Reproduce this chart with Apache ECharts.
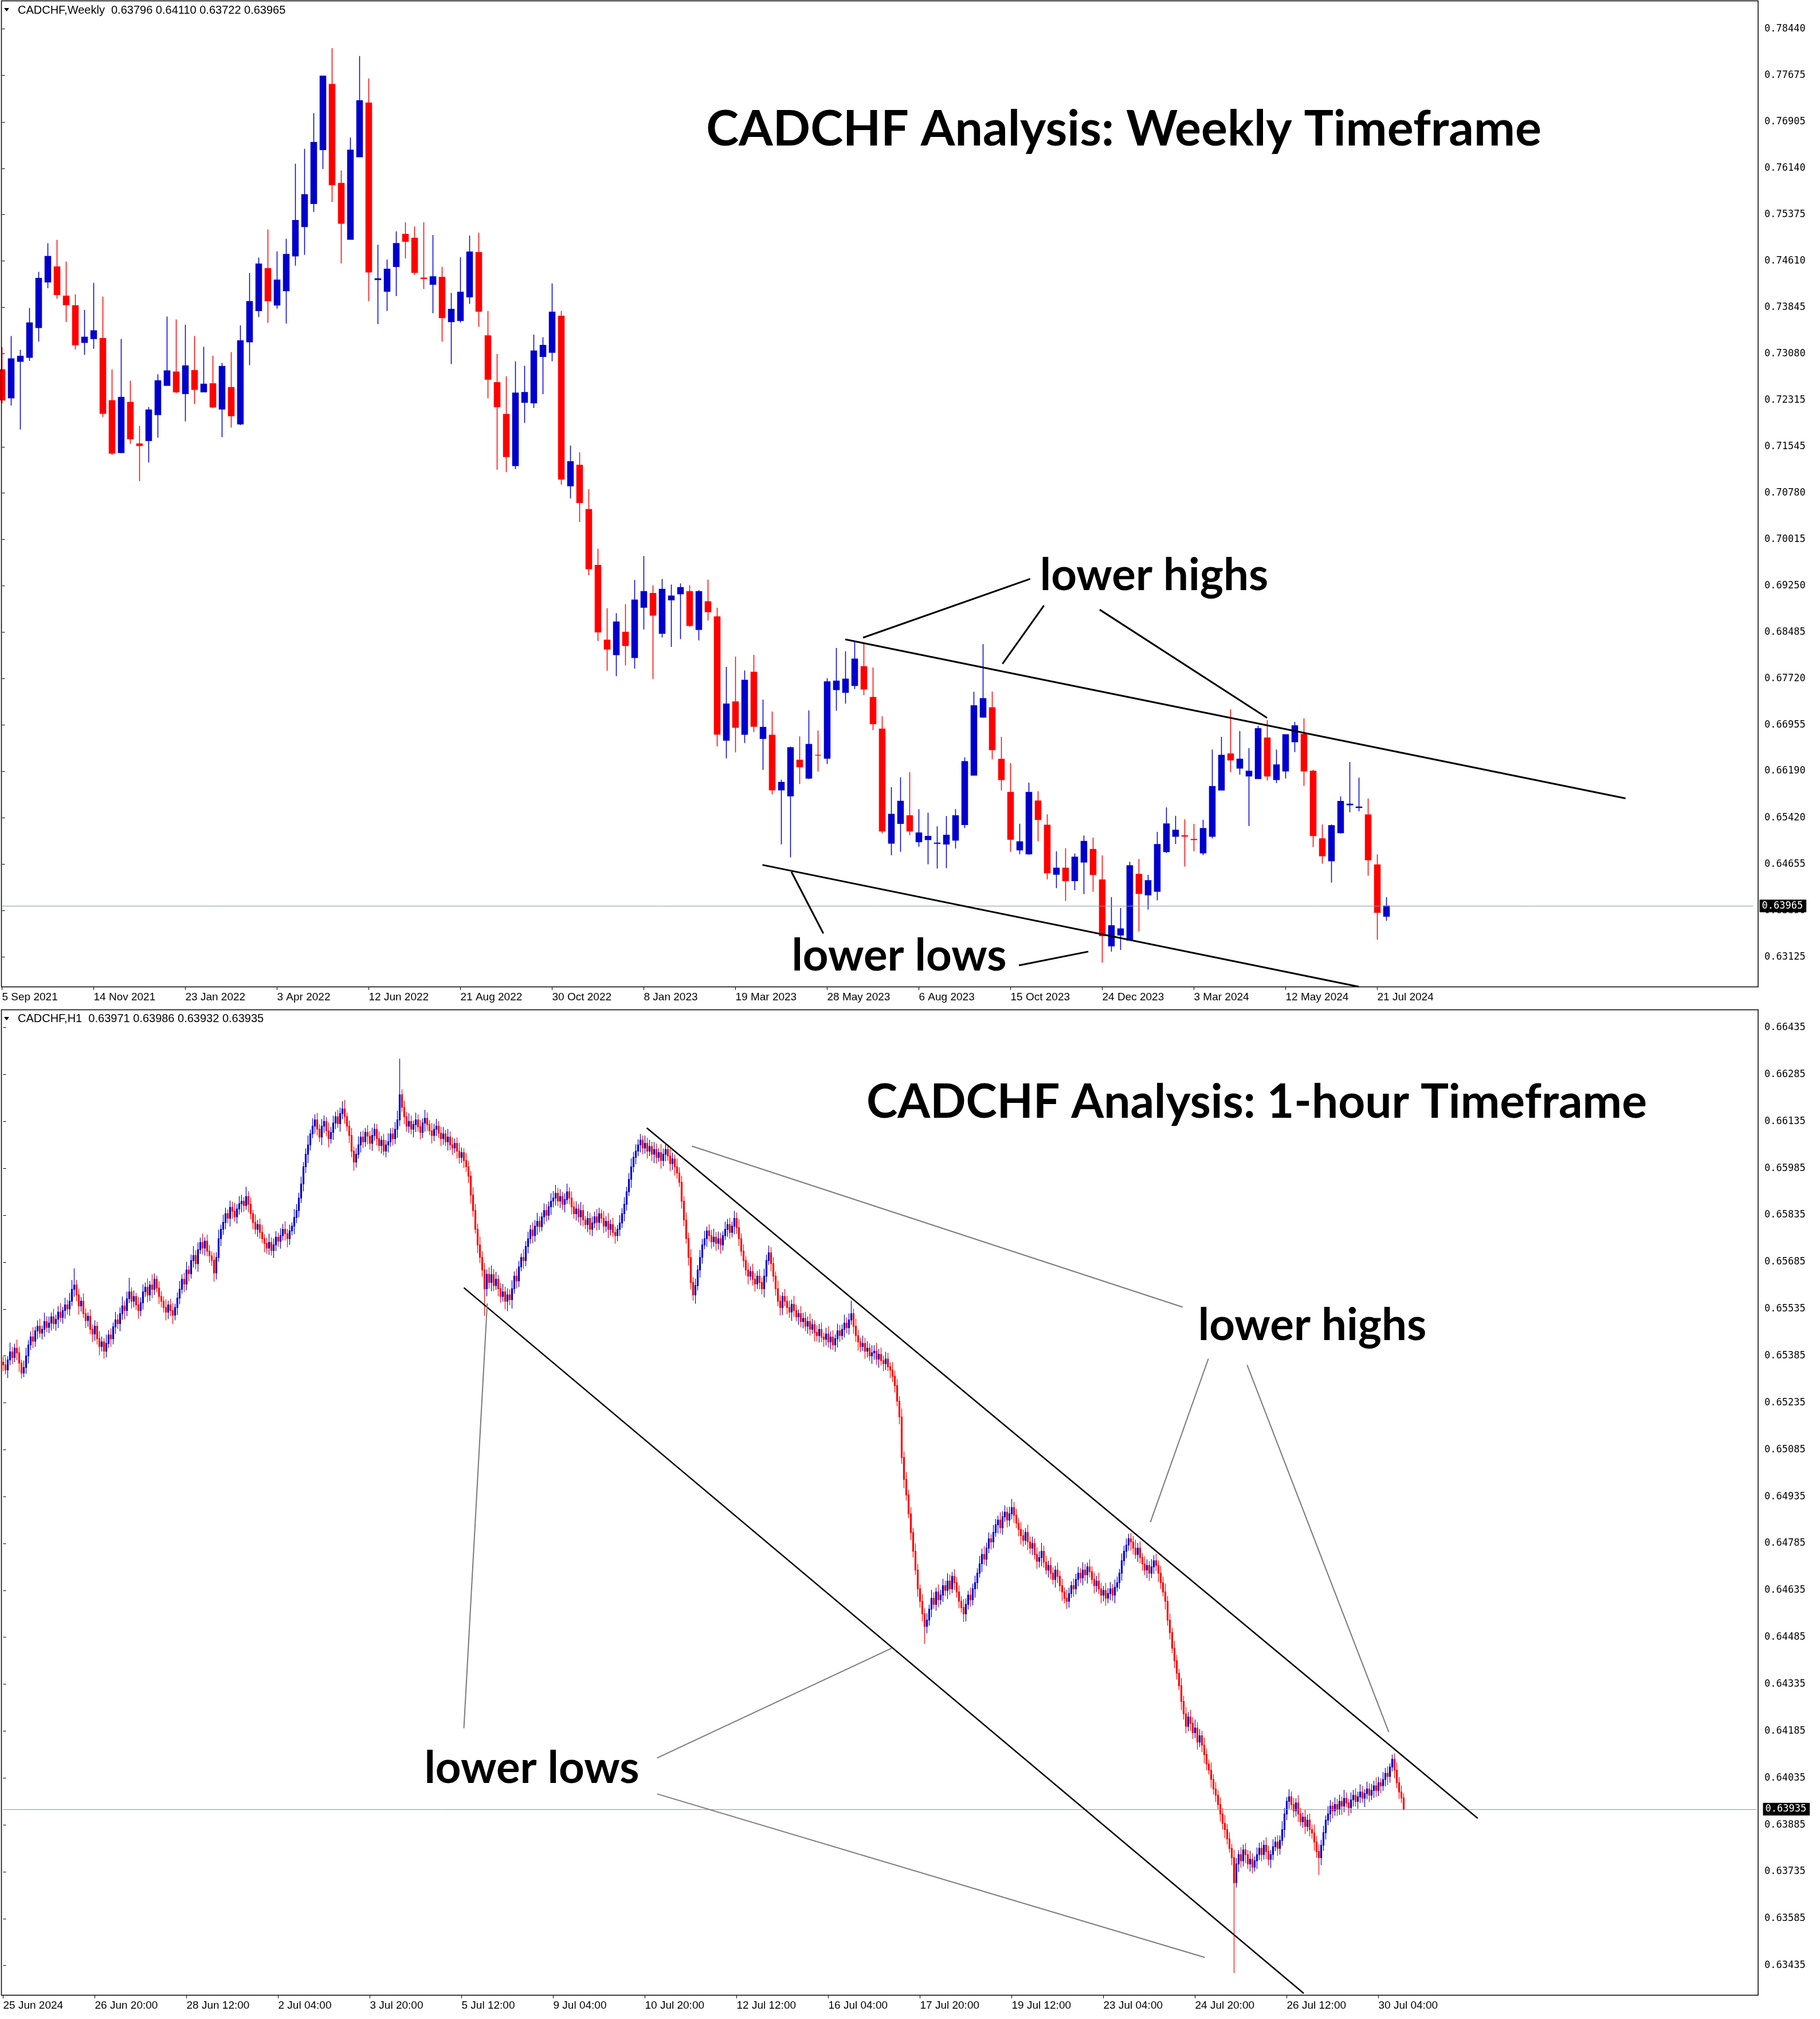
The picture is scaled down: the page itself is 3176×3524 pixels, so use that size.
<!DOCTYPE html>
<html><head><meta charset="utf-8">
<script src="https://cdn.jsdelivr.net/npm/echarts@6/dist/echarts.min.js"></script>
<style>html,body{margin:0;padding:0;background:#fff}#c{width:3176px;height:3524px}</style>
</head><body><div id="c"></div>
<script>
// ---------------- DATA: weekly ----------------
const weeklyOpen=[0.72817,0.72350,0.72953,0.73020,0.73512,0.74264,0.74514,0.74032,0.73873,0.73266,0.73329,0.73333,0.72307,0.71449,0.72278,0.71593,0.71646,0.72075,0.72557,0.72779,0.72422,0.72803,0.72451,0.72586,0.72167,0.72524,0.71921,0.73276,0.73791,0.74485,0.73883,0.74119,0.74693,0.75179,0.75560,0.76447,0.77527,0.75893,0.74967,0.76331,0.77218,0.74305,0.74109,0.74519,0.75050,0.74987,0.74330,0.74225,0.74341,0.73608,0.73627,0.74018,0.74750,0.73377,0.72605,0.72080,0.71232,0.72278,0.72268,0.73034,0.73102,0.73700,0.70899,0.71241,0.70509,0.69588,0.68354,0.68113,0.68484,0.68065,0.68894,0.69125,0.68465,0.69019,0.69116,0.69154,0.68528,0.68986,0.68740,0.66700,0.67335,0.66798,0.67825,0.66730,0.66785,0.65881,0.65781,0.66372,0.66074,0.66454,0.66404,0.67536,0.67490,0.67605,0.67917,0.67408,0.66885,0.65001,0.65327,0.65455,0.65024,0.65061,0.64998,0.64988,0.65052,0.65308,0.66124,0.67082,0.67238,0.66386,0.65840,0.64891,0.64823,0.65698,0.65299,0.64488,0.64589,0.64382,0.64690,0.64900,0.64396,0.63306,0.63487,0.63400,0.64489,0.64149,0.64207,0.64862,0.65115,0.65125,0.65065,0.64840,0.65115,0.65879,0.66476,0.66241,0.66110,0.66067,0.66740,0.66052,0.66194,0.66675,0.66798,0.66190,0.65075,0.64710,0.65173,0.65635,0.65590,0.65470,0.64645,0.63796];
const weeklyHigh=[0.73189,0.73372,0.73145,0.73835,0.74432,0.74905,0.74958,0.74601,0.74061,0.73806,0.74249,0.74023,0.72822,0.73324,0.72634,0.71887,0.72201,0.72741,0.73695,0.73647,0.73560,0.73372,0.73194,0.73049,0.72928,0.73107,0.73550,0.74413,0.74669,0.75131,0.74770,0.74977,0.76216,0.76462,0.77050,0.77662,0.78124,0.76105,0.76650,0.77994,0.77623,0.74881,0.74635,0.75100,0.75250,0.75180,0.75250,0.75040,0.74514,0.74085,0.74673,0.75030,0.75078,0.73786,0.73078,0.72707,0.72953,0.72880,0.73396,0.73353,0.74239,0.73786,0.71564,0.71454,0.70846,0.69863,0.68880,0.68798,0.68947,0.69347,0.69742,0.69260,0.69362,0.69270,0.69289,0.69260,0.69178,0.69352,0.68889,0.67911,0.68082,0.67853,0.68109,0.67371,0.67174,0.66051,0.66597,0.66766,0.67193,0.66862,0.67724,0.68224,0.68169,0.68325,0.68306,0.67903,0.67096,0.65927,0.66088,0.66175,0.65561,0.65506,0.65281,0.65451,0.65565,0.66418,0.67500,0.68288,0.67504,0.66757,0.66326,0.65322,0.66001,0.65859,0.65478,0.64868,0.64919,0.64832,0.65130,0.65093,0.64800,0.64109,0.63932,0.64695,0.64742,0.64478,0.65187,0.65593,0.65452,0.65397,0.65321,0.65390,0.66548,0.66758,0.67211,0.66852,0.66570,0.66939,0.67033,0.66548,0.66794,0.67004,0.67062,0.66215,0.65311,0.65311,0.65774,0.66342,0.66085,0.65738,0.64818,0.64110];
const weeklyLow=[0.72258,0.72225,0.71830,0.72962,0.73280,0.74162,0.73989,0.73603,0.73150,0.73063,0.73160,0.72037,0.71410,0.71439,0.71593,0.70976,0.71285,0.71695,0.72557,0.72432,0.71964,0.72249,0.72451,0.72186,0.71704,0.71863,0.71902,0.72890,0.73685,0.73589,0.73825,0.73579,0.74534,0.74712,0.75420,0.76129,0.75584,0.74572,0.74967,0.76331,0.73950,0.73569,0.73786,0.74032,0.74654,0.74384,0.74148,0.73748,0.73280,0.72909,0.73594,0.73902,0.73526,0.72345,0.71164,0.71126,0.71174,0.71940,0.72186,0.72413,0.72957,0.70918,0.70692,0.70302,0.69424,0.68340,0.67848,0.67757,0.67935,0.67882,0.68528,0.67713,0.68398,0.68243,0.68369,0.68571,0.68349,0.68677,0.66600,0.66400,0.66500,0.66656,0.66835,0.66212,0.65808,0.64983,0.64768,0.65978,0.66060,0.66184,0.66308,0.67188,0.67303,0.67545,0.67445,0.66867,0.65162,0.64804,0.64859,0.65134,0.64942,0.64653,0.64584,0.64589,0.64914,0.65253,0.66124,0.67073,0.66386,0.65872,0.64859,0.64818,0.64813,0.65033,0.64405,0.64259,0.64048,0.64227,0.64162,0.64199,0.63030,0.63212,0.63240,0.63400,0.63545,0.63907,0.64058,0.64840,0.64989,0.64616,0.64869,0.64804,0.65079,0.65872,0.66172,0.66132,0.65285,0.66060,0.66038,0.65995,0.66071,0.66505,0.65948,0.64938,0.64663,0.64352,0.65159,0.65513,0.65528,0.64464,0.63411,0.63722];
const weeklyClose=[0.72316,0.72996,0.73039,0.73589,0.74326,0.74688,0.74056,0.73888,0.73227,0.73353,0.73459,0.72095,0.71439,0.72360,0.71675,0.71564,0.72152,0.72634,0.72798,0.72451,0.72880,0.72490,0.72577,0.72201,0.72871,0.72056,0.73295,0.73941,0.74562,0.73955,0.74297,0.74721,0.75281,0.75705,0.76568,0.77662,0.75869,0.75232,0.76442,0.77257,0.74428,0.74318,0.74476,0.74900,0.74934,0.74423,0.74320,0.74350,0.73676,0.73815,0.74095,0.74760,0.73782,0.72659,0.72205,0.71381,0.72432,0.72442,0.73126,0.73218,0.73767,0.71010,0.71299,0.70624,0.69530,0.68489,0.68205,0.68653,0.68263,0.69015,0.69154,0.68764,0.69193,0.69082,0.69222,0.68595,0.69154,0.68822,0.66800,0.67300,0.66913,0.67692,0.66931,0.66913,0.65881,0.66005,0.66578,0.66262,0.66633,0.66454,0.67665,0.67678,0.67710,0.68041,0.67545,0.66972,0.65203,0.65478,0.65694,0.65203,0.65171,0.65116,0.65004,0.65134,0.65455,0.66349,0.67270,0.67390,0.66546,0.66051,0.65066,0.65024,0.65840,0.65391,0.64511,0.64589,0.64382,0.64772,0.65033,0.64483,0.63475,0.63639,0.63588,0.64630,0.64171,0.64384,0.64981,0.65321,0.65217,0.65118,0.65060,0.65245,0.65937,0.66454,0.66375,0.66389,0.66190,0.66892,0.66110,0.66295,0.66794,0.66939,0.66194,0.65126,0.64793,0.65292,0.65691,0.65646,0.65600,0.64728,0.63859,0.63965];
const weeklyTickLabels=['5 Sep 2021','14 Nov 2021','23 Jan 2022','3 Apr 2022','12 Jun 2022','21 Aug 2022','30 Oct 2022','8 Jan 2023','19 Mar 2023','28 May 2023','6 Aug 2023','15 Oct 2023','24 Dec 2023','3 Mar 2024','12 May 2024','21 Jul 2024'];
const weeklyPriceTicks=[0.78440,0.77675,0.76905,0.76140,0.75375,0.74610,0.73845,0.73080,0.72315,0.71545,0.70780,0.70015,0.69250,0.68485,0.67720,0.66955,0.66190,0.65420,0.64655,0.63890,0.63125];
const weeklyLast=0.63965;
const weeklyHeader='CADCHF,Weekly  0.63796 0.64110 0.63722 0.63965';

// ---------------- DATA: H1 (price = 0.6 + value/100000) ----------------
const h1FirstOpen=5365;
const h1Close=[
5356,5340,5372,5398,5380,5410,5395,5362,5330,5348,
5385,5420,5446,5432,5465,5480,5458,5470,5495,5476,
5490,5510,5488,5502,5525,5508,5530,5548,5535,5560,5598,5612,
5580,5545,5560,5520,5498,5512,5470,5455,5480,5440,5415,5430,5400,
5425,5452,5440,5478,5500,5488,5520,5545,5530,5568,5590,
5560,5575,5548,5530,5555,5590,5605,5580,5612,5598,5630,5602,5575,5560,5540,5525,5548,5530,5515,5540,
5570,5598,5630,5615,5660,5648,5690,5706,5680,5725,5748,5730,5752,5720,5705,5691,
5650,5700,5760,5790,5812,5840,5825,5860,5848,5830,5855,5872,5880,5866,5895,5870,5840,5812,5790,5805,
5780,5760,5745,5730,5748,5722,5740,5765,5752,5770,5790,5776,5760,5785,5800,5828,5850,
5890,5935,5990,6030,6060,6095,6120,6140,
6110,6085,6120,6135,6105,6080,6100,6130,6150,6128,6160,6175,6150,6120,6090,6040,6005,6030,6060,6085,6070,6100,6088,6065,6090,6110,6080,6058,6075,6040,6060,
6070,6095,6080,6110,6140,6220,
6180,6150,6120,6135,6110,6125,6140,6118,6100,6130,6145,6125,6105,6090,6110,6120,6098,6080,6095,6070,6085,6060,
6050,6065,6040,6020,6035,6010,5990,5960,5900,
5850,5790,5740,5700,5660,5600,5646,
5620,5645,5610,5630,5600,5575,5590,5560,5580,5565,
5600,5640,5625,5670,5700,5690,5735,5760,5788,5770,5800,5815,5798,5830,5850,5835,5862,5880,5890,
5905,5880,5895,5870,5885,5910,5890,5862,5840,5855,5830,5850,5820,5805,5825,5790,5810,5830,5812,5840,5825,5800,5815,5790,5805,5780,5770,5790,5810,5840,5870,
5910,5950,5990,6020,6040,6060,6075,6050,6065,
6040,6055,6030,6045,6020,6035,6010,6030,6045,6025,6000,6015,5990,5970,5940,
5880,5820,5760,5700,5620,5580,5610,
5660,5700,5740,5760,5785,5770,5750,5765,5745,5760,5740,
5770,5790,5805,5780,5800,5825,5795,5760,5720,
5690,5660,5640,5655,5630,5615,5640,5620,5600,
5640,5690,5715,5680,5640,5600,5560,5540,5575,5560,
5540,5525,5550,5530,5510,5520,5495,5505,5480,5495,5470,5485,5460,5450,5470,5445,5438,
5455,5430,5445,5420,5440,5465,5450,5470,5490,5475,5500,5520,
5480,5450,5430,5415,5425,5400,5410,5385,5395,5400,5375,5390,5370,5360,5375,5350,
5340,5320,5290,5240,5190,5060,4990,4940,4880,4820,4760,4700,4640,4600,4560,4520,4540,
4575,4610,4590,4630,4605,4620,4650,4635,4665,4640,4680,4660,4630,4600,4580,4560,4590,4620,4605,4640,4660,4690,4720,
4750,4735,4770,4800,4790,4820,4845,4860,4835,4870,4885,4860,4880,4900,4875,4850,4830,
4810,4795,4820,4790,4770,4785,4750,4728,
4740,4760,4725,4700,4715,4690,4670,4700,4680,4650,4630,4610,4600,4625,
4650,4640,4670,4690,4675,4700,4685,4710,4695,4670,4650,4665,4640,4620,4635,4610,4625,4640,4620,4645,4660,4690,4730,
4760,4780,4800,4790,4770,
4750,4770,4740,4720,4700,4715,4690,4710,4730,4715,4690,4660,
4630,4600,4540,4500,4450,4410,4370,4330,
4280,4240,4200,4230,4210,4180,4195,4150,4170,4140,4110,
4080,4060,4030,4000,3980,3950,3920,3890,3870,
3840,3810,3780,3700,
3760,3790,3770,3805,3790,3760,3775,3750,3770,3790,
3810,3790,3820,3800,3775,3790,3815,3830,3810,3835,3870,
3920,3960,3975,
3950,3930,3955,3920,3895,3910,3880,3900,3870,3859,
3830,3800,3780,3820,3860,3900,3920,3945,3930,
3950,3935,3960,3945,3970,3955,3940,3965,3980,3960,3975,3990,3970,3985,4000,3980,3995,
4010,3995,4020,4010,4030,4050,4040,4070,4095,
4060,4020,3990,3971,3935];
const h1UpWick=[
18,25,12,30,16,14,27,20,11,22,26,15,17,31,13,19,24,12,28,17,
21,14,26,15,19,29,12,23,17,27,30,53,16,20,13,25,18,12,22,15,
19,14,24,17,12,28,15,21,14,26,18,20,30,16,23,45,14,19,12,26,
17,24,15,28,13,34,19,12,22,17,15,26,13,20,24,12,18,27,16,21,
26,14,19,30,17,23,15,28,12,21,20,14,24,17,29,15,25,19,13,22,
18,27,15,24,20,13,31,17,22,12,26,15,19,24,14,18,28,16,21,19,
14,23,17,26,15,20,12,27,21,17,24,15,19,30,14,25,18,22,16,23,
19,14,27,18,23,16,22,19,25,29,13,18,24,15,20,27,17,21,14,23,
16,25,19,17,23,14,21,15,27,18,20,23,29,116,18,21,15,26,19,13,
23,17,22,15,27,19,14,25,18,23,16,20,22,13,26,18,24,15,19,27,
17,14,24,19,16,25,21,18,27,20,23,16,22,29,18,24,14,19,25,16,
21,18,27,15,24,19,13,26,17,22,16,24,19,28,17,14,23,20,16,25,
22,27,17,23,15,20,26,14,21,18,24,16,27,19,13,23,18,21,16,25,
19,14,24,17,27,16,22,19,14,25,18,23,16,20,27,17,22,18,20,15,
25,18,21,15,24,19,14,27,18,22,16,23,20,14,26,18,21,16,24,19,
27,17,22,15,24,19,25,14,21,18,27,16,23,19,14,25,18,22,15,24,
19,27,17,22,14,23,16,25,20,17,22,16,24,19,23,18,21,15,26,19,
14,24,17,22,15,27,19,13,24,18,21,16,25,19,14,23,17,22,15,20,
25,18,22,14,23,19,16,27,18,21,42,16,24,19,14,25,18,22,15,24,
19,27,17,22,16,23,20,14,25,18,21,16,27,19,23,17,22,15,25,19,
14,23,18,22,15,27,19,14,24,17,22,16,25,20,14,23,18,21,16,27,
19,14,24,17,22,16,25,19,27,18,21,15,24,19,14,25,18,22,16,23,
27,18,21,16,24,19,14,25,17,22,16,23,20,27,18,21,15,26,19,14,
24,17,22,15,27,19,14,23,18,21,16,25,19,14,24,17,22,16,27,19,
14,24,17,22,15,25,19,14,23,18,21,16,18,19,27,17,22,15,24,19,
14,25,18,22,16,23,19,27,17,21,15,24,19,14,25,18,22,16,23,20,
27,18,21,16,24,19,14,25,17,22,16,23,19,27,18,21,15,25,19,14,
24,17,22,15,27,19,14,23,18,21,16,25,19,14,24,17,22,16,27,19,
14,24,17,22,15,25,19,14,23,18,21,16,27,19,23,17,22,15,25,19,
14,23,18,22,15,27,19,14,24,17,22,16,25,20,14,23,18,21,16,27,
19,14,24,17,22,12,15,19,25,18,21,15];
const h1DnWick=[
20,14,26,17,22,15,24,28,18,13,20,24,16,22,18,26,14,20,24,15,
18,24,16,22,28,14,20,26,18,22,15,24,20,28,18,14,24,20,16,26,
22,18,28,16,24,20,14,26,18,22,16,24,20,28,18,14,24,20,16,26,
18,22,16,24,20,28,18,14,24,20,16,26,22,18,28,16,24,20,14,26,
20,24,16,22,18,26,14,20,24,16,22,18,28,20,14,24,18,22,16,26,
24,16,22,18,28,20,14,26,18,22,16,24,20,14,28,18,22,16,24,20,
18,24,16,22,28,20,14,26,18,22,16,24,20,28,18,14,24,20,16,26,
22,18,28,16,24,20,14,26,18,22,16,24,20,28,18,14,24,20,16,26,
20,24,16,22,18,26,14,20,24,16,22,18,28,20,14,24,18,22,16,26,
24,16,22,18,28,20,14,26,18,22,16,24,20,14,28,18,22,16,24,20,
18,24,16,22,28,20,14,26,18,22,87,24,20,28,18,14,24,20,16,26,
32,18,28,16,24,20,14,26,18,22,16,24,20,28,18,14,24,20,16,26,
20,24,16,22,18,26,14,20,24,16,22,18,28,20,14,24,18,22,16,26,
24,16,22,18,28,20,14,26,18,22,16,24,20,14,28,18,22,16,24,20,
18,24,16,22,28,20,14,26,18,22,16,24,20,28,18,14,24,20,16,26,
22,18,28,16,24,20,14,26,18,22,16,24,20,28,18,14,24,20,16,26,
20,24,16,22,18,26,14,20,24,16,22,18,28,20,14,24,18,22,16,26,
24,16,22,18,28,20,14,26,18,22,16,24,20,14,28,18,22,16,24,20,
18,24,16,22,28,20,14,26,18,22,16,24,20,28,18,14,24,20,16,26,
22,18,28,16,24,20,14,26,18,22,16,24,20,28,18,14,24,20,16,26,
20,24,56,22,18,26,14,20,24,16,22,18,28,20,14,24,18,22,16,26,
24,16,22,18,28,20,14,26,18,22,16,24,20,14,28,18,22,16,24,20,
18,24,16,22,28,20,14,26,18,22,16,24,20,28,18,14,24,20,16,26,
22,18,28,16,24,20,14,26,18,22,16,24,20,28,18,14,24,20,16,26,
20,24,16,22,18,26,14,20,24,16,22,18,28,20,14,24,18,22,16,26,
24,16,22,18,28,20,14,26,18,22,16,24,20,14,28,18,22,16,24,20,
18,24,16,22,28,20,14,26,18,22,16,24,20,28,18,14,24,289,16,26,
22,18,28,16,24,20,14,26,18,22,16,24,20,28,18,14,24,20,16,26,
20,24,16,22,18,26,14,20,24,16,22,18,28,20,55,24,18,22,16,26,
24,16,22,18,28,20,14,26,18,22,16,24,20,14,28,18,22,16,24,20,
18,24,16,22,28,20,14,26,18,22,16,3];
const h1TickLabels=['25 Jun 2024','26 Jun 20:00','28 Jun 12:00','2 Jul 04:00','3 Jul 20:00','5 Jul 12:00','9 Jul 04:00','10 Jul 20:00','12 Jul 12:00','16 Jul 04:00','17 Jul 20:00','19 Jul 12:00','23 Jul 04:00','24 Jul 20:00','26 Jul 12:00','30 Jul 04:00'];
const h1PriceTicks=[0.66435,0.66285,0.66135,0.65985,0.65835,0.65685,0.65535,0.65385,0.65235,0.65085,0.64935,0.64785,0.64635,0.64485,0.64335,0.64185,0.64035,0.63885,0.63735,0.63585,0.63435];
const h1Last=0.63935;
const h1Header='CADCHF,H1  0.63971 0.63986 0.63932 0.63935';

// ---------------- LAYOUT ----------------
const P=[
 {left:3.5, top:1, width:3056, height:1721, slots:192, step:10, min:0.62635, max:0.78909, bw:11, lw:1.5, frameTop:1, frameBot:1722},
 {left:5.5, top:1762, width:3060, height:1720, slots:766, step:40, min:0.63341, max:0.66493, bw:2, lw:1.2, frameTop:1762, frameBot:3482}
];
const RIGHT=3068;
const BLUE='#0000CD', RED='#FF0000';

// annotation segments in data coords [bar index, price]
const annTop={
 black:[
  [[91.97,0.68365],[177.07,0.65741]],
  [[82.94,0.64643],[147.98,0.62632]],
  [[93.91,0.68394],[112.14,0.69365]],
  [[109.12,0.67963],[113.64,0.68925]],
  [[119.72,0.68856],[137.98,0.67069]],
  [[86.10,0.64529],[89.58,0.63512]],
  [[110.91,0.62985],[118.48,0.63213]]
 ], grey:[]
};
const annBot={
 black:[
  [[280.8,0.66114],[643.3,0.63906]],
  [[201.0,0.65603],[567.4,0.63346]]
 ],
 grey:[
  [[300.5,0.66056],[514.6,0.65541]],
  [[525.8,0.65376],[500.5,0.64853]],
  [[542.7,0.65356],[604.5,0.64182]],
  [[201.0,0.64194],[211.2,0.65553]],
  [[285.3,0.64099],[387.6,0.64450]],
  [[285.3,0.63984],[524.2,0.63461]]
 ]
};

// ---------------- BUILD ----------------
const chart=echarts.init(document.getElementById('c'),null,{renderer:'canvas',width:3176,height:3524});
function cats(n){return Array.from({length:n},(_,i)=>i);}
const weeklyData=weeklyOpen.map((o,i)=>[o,weeklyClose[i],weeklyLow[i],weeklyHigh[i]]);
// H1 candles: each hourly open is the previous hourly close (gapless feed)
const h1Data=h1Close.map((c,i)=>{
 const o=i===0?h1FirstOpen:h1Close[i-1];
 const hi=Math.max(o,c)+h1UpWick[i], lo=Math.min(o,c)-h1DnWick[i];
 const f=v=>(60000+v)/100000;
 return [f(o),f(c),f(lo),f(hi)];
});
const sets=[
 {data:weeklyData,ticks:weeklyTickLabels,prices:weeklyPriceTicks,last:weeklyLast,ann:annTop},
 {data:h1Data,ticks:h1TickLabels,prices:h1PriceTicks,last:h1Last,ann:annBot}
];
const grids=[],xAxes=[],yAxes=[],series=[];
P.forEach((p,g)=>{
 const s=sets[g];
 grids.push({left:p.left,top:p.top,width:p.width,height:p.height,containLabel:false});
 const tickFn=(i)=> i%p.step===0 && (i/p.step)<s.ticks.length;
 xAxes.push({type:'category',gridIndex:g,data:cats(p.slots),boundaryGap:false,
   axisLine:{show:false},
   axisTick:{show:true,interval:tickFn,length:6,lineStyle:{color:'#000',width:1}},
   axisLabel:{show:true,interval:tickFn,formatter:(v,i)=>s.ticks[Math.round(i/p.step)]||'',align:'left',margin:9,
     fontFamily:'Liberation Sans',fontSize:19,color:'#000'},
   splitLine:{show:false}});
 yAxes.push({type:'value',gridIndex:g,position:'right',min:p.min,max:p.max,offset:RIGHT-(p.left+p.width),
   axisLine:{show:false},splitLine:{show:false},
   axisTick:{show:true,customValues:s.prices,length:5,lineStyle:{color:'#000',width:1}},
   axisLabel:{show:true,customValues:s.prices,formatter:v=>v.toFixed(5),margin:11,fontFamily:'DejaVu Sans Mono',fontSize:17,color:'#000'}});
 series.push({type:'candlestick',xAxisIndex:g,yAxisIndex:g,data:s.data,barWidth:p.bw,large:false,animation:false,silent:true,
   itemStyle:{color:BLUE,color0:RED,borderColor:BLUE,borderColor0:RED,borderWidth:p.lw},
   markLine:{symbol:'none',silent:true,animation:false,precision:5,
     lineStyle:{color:'#8797a8',width:1,type:'solid'},
     label:{show:true,position:'end',distance:11,formatter:()=>s.last.toFixed(5),color:'#fff',backgroundColor:'#000',padding:[3,6,2,4],fontFamily:'DejaVu Sans Mono',fontSize:17},
     data:[{yAxis:s.last}]}});
});
P.forEach((p,g)=>{ xAxes.push({type:'value',gridIndex:g,min:0,max:p.slots-1,show:false}); });
sets.forEach((s,g)=>{
 s.ann.black.forEach(seg=>series.push({type:'line',xAxisIndex:2+g,yAxisIndex:g,data:seg,symbol:'none',silent:true,animation:false,z:5,lineStyle:{color:'#000',width:g===0?3:2.5}}));
 s.ann.grey.forEach(seg=>series.push({type:'line',xAxisIndex:2+g,yAxisIndex:g,data:seg,symbol:'none',silent:true,animation:false,z:5,lineStyle:{color:'#7a7a7a',width:2}}));
});

const TF="'Lato','Open Sans',sans-serif";
const graphic=[];
P.forEach((p,g)=>{
 graphic.push({type:'rect',silent:true,z:10,shape:{x:2.5,y:p.frameTop+0.5,width:RIGHT-2.5,height:p.frameBot-p.frameTop},style:{fill:'none',stroke:'#000',lineWidth:1.5}});
});
function txt(t,x,y,size,weight,family,align){
 return {type:'text',silent:true,z:20,x:x,y:y,style:{text:t,x:0,y:0,fill:'#000',font:weight+' '+size+'px '+family,align:align||'center',verticalAlign:'middle',textAlign:align||'center',textVerticalAlign:'middle'}};
}
graphic.push({type:'polygon',silent:true,z:20,shape:{points:[[7,14],[16,14],[11.5,20]]},style:{fill:'#000'}});
graphic.push({type:'polygon',silent:true,z:20,shape:{points:[[7,1775],[16,1775],[11.5,1781]]},style:{fill:'#000'}});
graphic.push(txt(weeklyHeader,31,18,20,'normal',"'Liberation Sans',sans-serif",'left'));
graphic.push(txt(h1Header,31,1778,20,'normal',"'Liberation Sans',sans-serif",'left'));
graphic.push(txt('CADCHF Analysis: Weekly Timeframe',1961,226,86,'bold',TF));
graphic.push(txt('lower highs',2014,1005,78,'bold',TF));
graphic.push(txt('lower lows',1569,1669,78,'bold',TF));
graphic.push(txt('CADCHF Analysis: 1-hour Timeframe',2193,1925,82,'bold',TF));
graphic.push(txt('lower highs',2290,2314,78,'bold',TF));
graphic.push(txt('lower lows',928,3087,78,'bold',TF));

chart.setOption({animation:false,backgroundColor:'#fff',grid:grids,xAxis:xAxes,yAxis:yAxes,series:series,graphic:graphic});
</script></body></html>
